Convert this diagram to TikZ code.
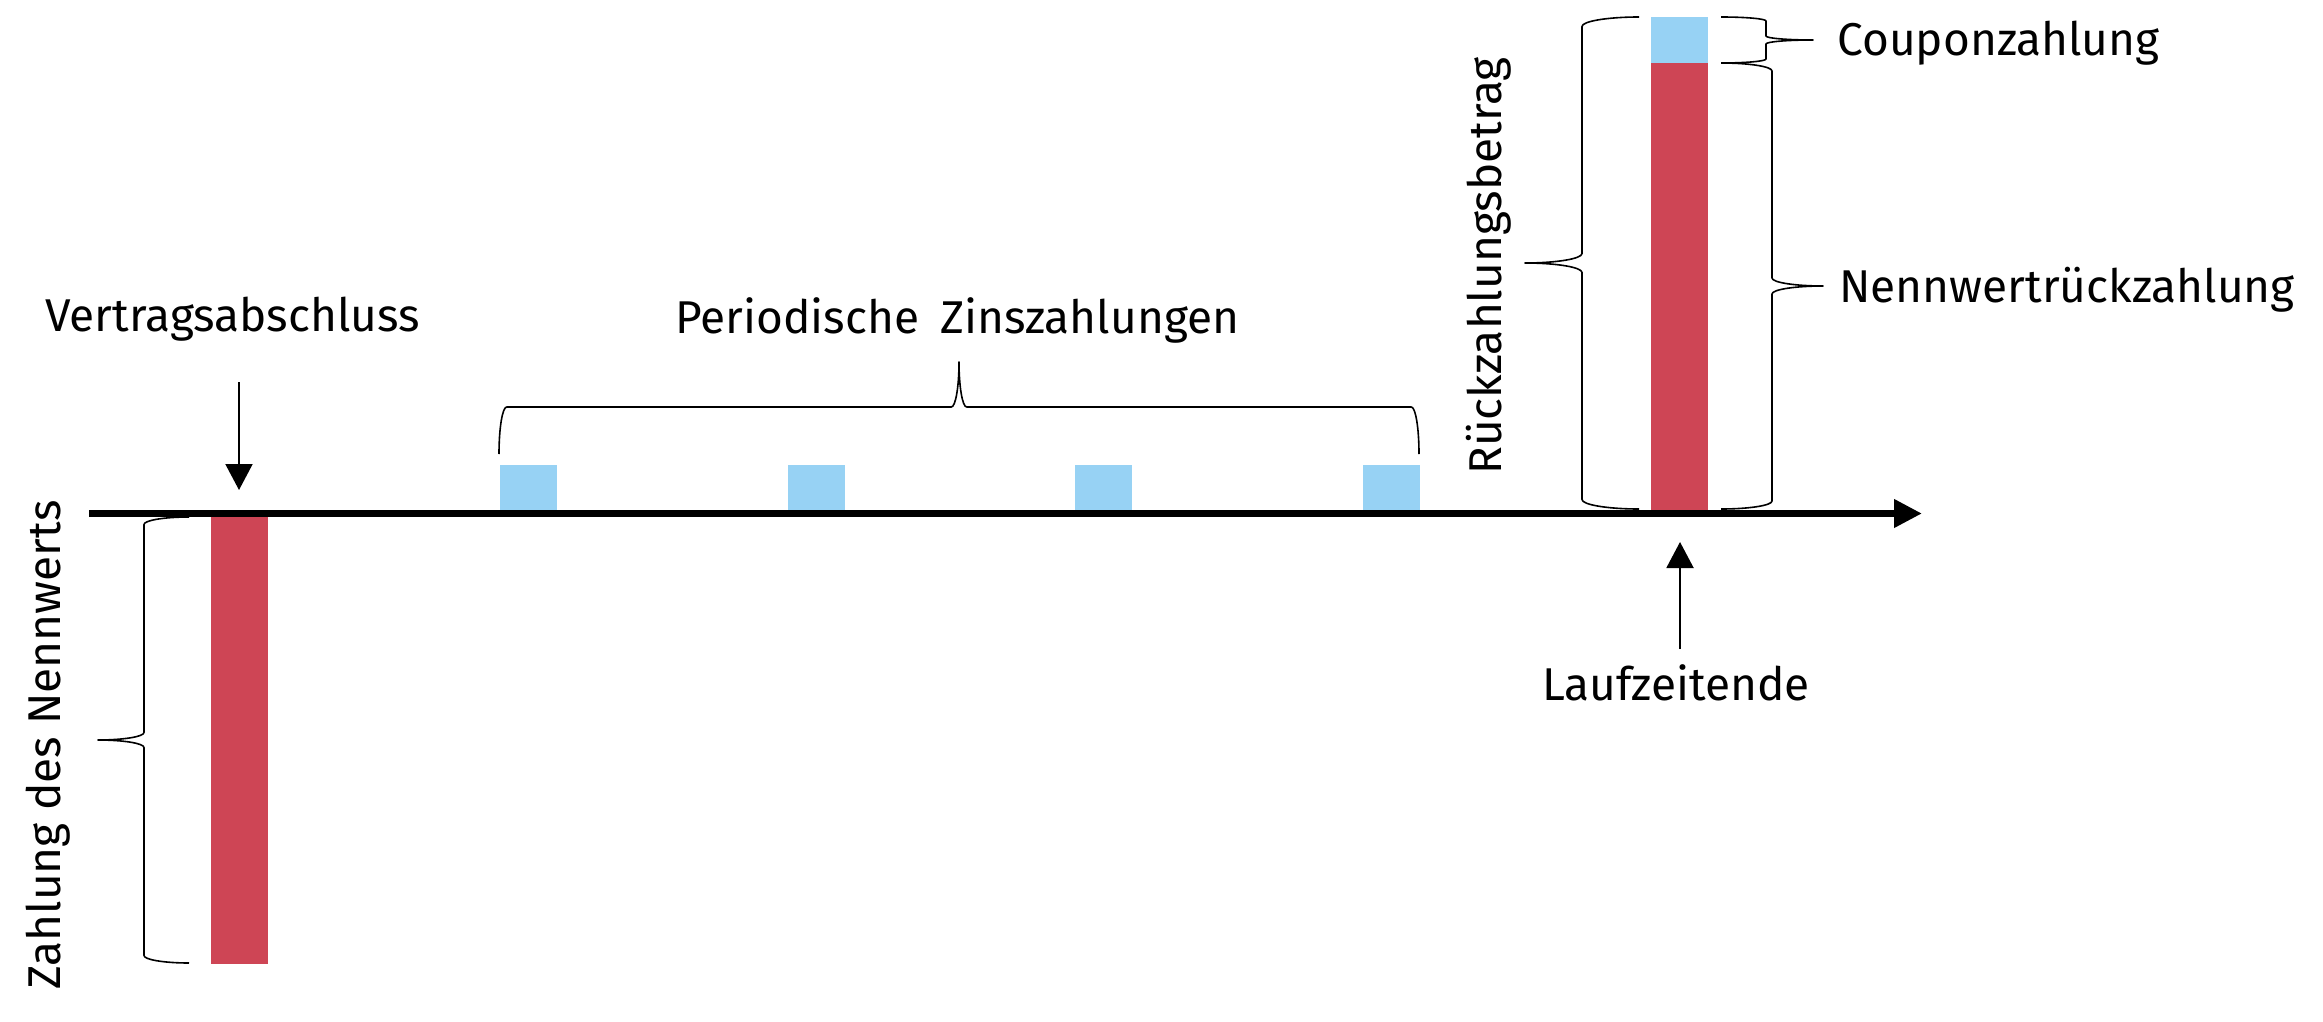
\documentclass[tikz,border=0pt]{standalone}
\usepackage{fontspec}
\setmainfont{Fira Sans}
\usetikzlibrary{arrows.meta}
\definecolor{barred}{HTML}{CE4555}
\definecolor{barblue}{HTML}{97D2F4}
\tikzset{
  bracestyle/.style={line width=0.8pt, line join=round},
  lbl/.style={inner sep=0pt, font=\fontsize{23pt}{27pt}\selectfont},
  ptr/.style={line width=1pt, -{Triangle[length=13pt,width=13.5pt]}},
  axisline/.style={line width=3.5pt, -{Triangle[length=14pt,width=13.5pt]}},
}
% vertical brace: xe y1 y2 xs xt r
\newcommand{\mkVbrace}[6]{%
 \draw[bracestyle] (#1,#2) .. controls ({#1+0.5523*(#4-#1)},#2) and (#4,{#2+#6-0.5523*#6}) .. (#4,{#2+#6})
 -- (#4,{(#2+#3)/2-#6}) .. controls (#4,{(#2+#3)/2-#6+0.5523*#6}) and ({#5+0.5523*(#4-#5)},{(#2+#3)/2}) .. (#5,{(#2+#3)/2})
 .. controls ({#5+0.5523*(#4-#5)},{(#2+#3)/2}) and (#4,{(#2+#3)/2+#6-0.5523*#6}) .. (#4,{(#2+#3)/2+#6})
 -- (#4,{#3-#6}) .. controls (#4,{#3-#6+0.5523*#6}) and ({#1+0.5523*(#4-#1)},#3) .. (#1,#3);}
% horizontal brace: ye x1 x2 ys yt r
\newcommand{\mkHbrace}[6]{%
 \draw[bracestyle] (#2,#1) .. controls (#2,{#1+0.5523*(#4-#1)}) and ({#2+#6-0.5523*#6},#4) .. ({#2+#6},#4)
 -- ({(#2+#3)/2-#6},#4) .. controls ({(#2+#3)/2-#6+0.5523*#6},#4) and ({(#2+#3)/2},{#5+0.5523*(#4-#5)}) .. ({(#2+#3)/2},#5)
 .. controls ({(#2+#3)/2},{#5+0.5523*(#4-#5)}) and ({(#2+#3)/2+#6-0.5523*#6},#4) .. ({(#2+#3)/2+#6},#4)
 -- ({#3-#6},#4) .. controls ({#3-#6+0.5523*#6},#4) and (#3,{#1+0.5523*(#4-#1)}) .. (#3,#1);}
\begin{document}
\begin{tikzpicture}[x=0.5pt,y=-0.5pt]
\useasboundingbox[fill=white] (0,0) rectangle (2323,1022);
% bars
\fill[barred] (211,513) rectangle (268,964);
\fill[barblue] (1651,17) rectangle (1708,63);
\fill[barred] (1651,63) rectangle (1708,513);
\foreach \k in {0,1,2,3}{
  \fill[barblue] ({500+287.5*\k},465) rectangle ({557+287.5*\k},513);
}
% axis
\coordinate (axstart) at (89,513.5);
\coordinate (axend) at (1922,513.5);
\draw[axisline] (axstart) -- (axend);
% braces
\mkVbrace{189}{517}{963}{144}{98}{7.5}
\mkVbrace{1639}{17}{509}{1582}{1525}{9.5}
\mkVbrace{1721}{17}{63}{1766}{1813}{4}
\mkVbrace{1721}{63}{509}{1772}{1823}{8}
\mkHbrace{454}{499}{1419}{407}{362}{7.7}
% labels
\node[lbl, anchor=base west] (vertrag) at (45,331) {Vertragsabschluss};
\node[lbl, anchor=base west] (period) at (675,333) {Periodische\hspace{0.45em}Zinszahlungen};
\node[lbl, anchor=base west] (coupon) at (1837,56) {Couponzahlung};
\node[lbl, anchor=base west] (nennrueck) at (1839,302) {Nennwertrückzahlung};
\node[lbl, anchor=base west] (laufzeit) at (1542,700) {Laufzeitende};
\node[lbl, anchor=base west, rotate=90] (zahlung) at (60,990) {Zahlung des Nennwerts};
\node[lbl, anchor=base west, rotate=90] (rueckbetrag) at (1501,475) {Rückzahlungsbetrag};
% pointer arrows
\coordinate (vstart) at (239,382);
\coordinate (vtip) at (239,490);
\draw[ptr] (vstart) -- (vtip);
\coordinate (lstart) at (1680,649);
\coordinate (ltip) at (1680,542);
\draw[ptr] (lstart) -- (ltip);
\end{tikzpicture}
\end{document}
